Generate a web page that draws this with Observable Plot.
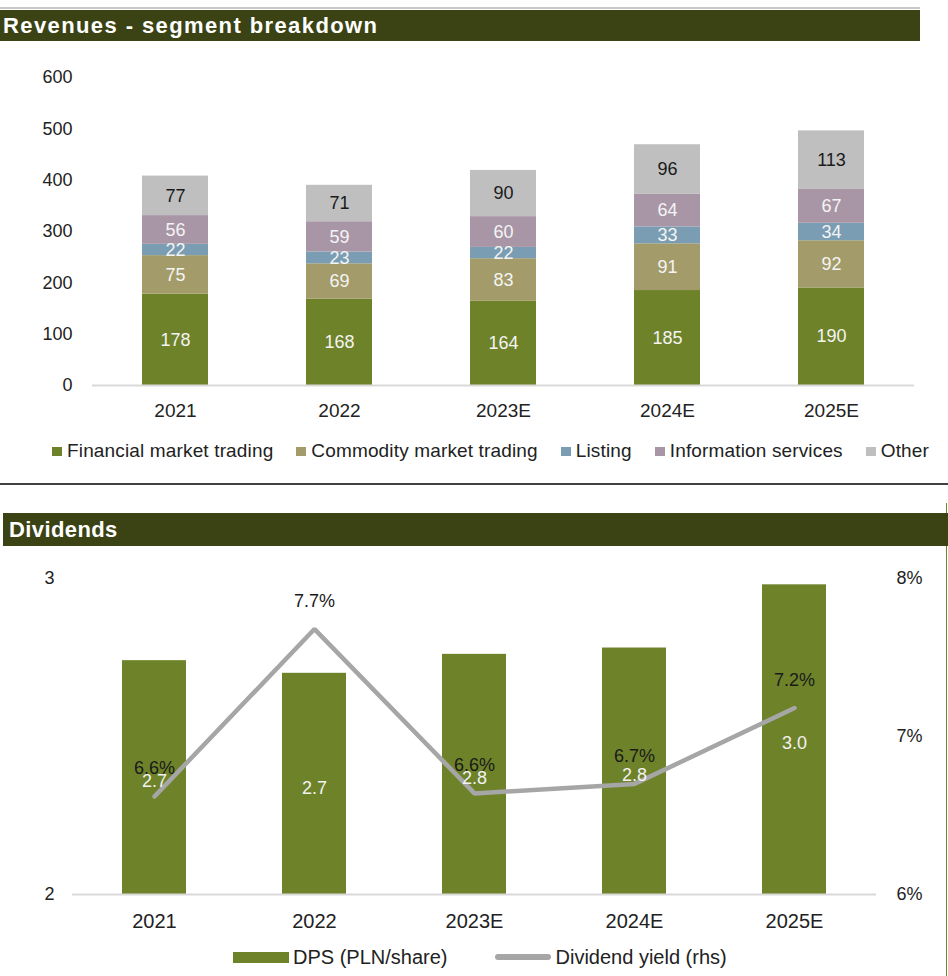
<!DOCTYPE html>
<html>
<head>
<meta charset="utf-8">
<script src="https://cdn.jsdelivr.net/npm/d3@7"></script>
<script src="https://cdn.jsdelivr.net/npm/@observablehq/plot@0.6"></script>
<style>
  html, body { margin: 0; padding: 0; background: #fff; }
  #root { position: relative; width: 948px; height: 976px; overflow: hidden; font-family: "Liberation Sans", Arial, sans-serif; color: #222; }
  .hdr { position: absolute; background: #3b4315; color: #fff; font-weight: bold; font-size: 22px; display: flex; align-items: center; box-sizing: border-box; }
  .legend { position: absolute; display: flex; align-items: center; color: #222; white-space: nowrap; }
  .legend .item { display: flex; align-items: center; }
  .plotbox { position: absolute; left: 0; }
</style>
</head>
<body>
<div id="root">
  <div style="position:absolute;left:0;top:7px;width:920px;height:2px;background:#c8c8c8"></div>
  <div class="hdr" style="left:0;top:10px;width:920px;height:31px;padding-left:3px;letter-spacing:1.4px">Revenues - segment breakdown</div>
  <div id="top" class="plotbox" style="top:41px"></div>
  <div id="legendTop" class="legend" style="left:52px;top:440px;height:22px;gap:23px;font-size:19px;letter-spacing:0.15px"></div>
  <div style="position:absolute;left:0;top:483px;width:948px;height:2px;background:#404040"></div>
  <div style="position:absolute;left:946px;top:503px;width:1px;height:473px;background:#6e8229"></div>
  <div class="hdr" style="left:3px;top:513px;width:945px;height:33px;padding-left:6px;letter-spacing:0.4px">Dividends</div>
  <div id="bottom" class="plotbox" style="top:546px"></div>
  <div id="legendBottom" class="legend" style="left:233px;top:945px;height:24px;gap:47px;font-size:20px"></div>
</div>
<script>
// ---------- Data ----------
const years = ["2021", "2022", "2023E", "2024E", "2025E"];
const segments = ["Financial market trading", "Commodity market trading", "Listing", "Information services", "Other"];
const segmentColors = ["#6e8229", "#a39c6a", "#7b9db3", "#a896a6", "#bfbfbf"];
const financialTrading = [178, 168, 164, 185, 190];
const commodityTrading = [75, 69, 83, 91, 92];
const listing = [22, 23, 22, 33, 34];
const informationServices = [56, 59, 60, 64, 67];
const other = [77, 71, 90, 96, 113];
const revenueTicks = [0, 100, 200, 300, 400, 500, 600];

const dps = [2.74, 2.70, 2.76, 2.78, 2.98];           // PLN/share
const dividendYield = [6.62, 7.68, 6.64, 6.70, 7.18];  // %
const dpsTicks = [2, 3];
const yieldTicks = [6, 7, 8];

// ---------- Top chart: revenues ----------
const seriesValues = [financialTrading, commodityTrading, listing, informationServices, other];
const rows = [];
years.forEach((year, i) => {
  let base = 0;
  segments.forEach((seg, s) => {
    const v = seriesValues[s][i];
    rows.push({year, segment: seg, value: v, y1: base, y2: base + v});
    base += v;
  });
});
const font = "'Liberation Sans', Arial, sans-serif";

const topPlot = Plot.plot({
  width: 948,
  height: 400,
  marginTop: 36,
  marginBottom: 56,
  marginLeft: 92,
  marginRight: 34,
  style: {fontFamily: font, color: "#222", background: "transparent", overflow: "visible"},
  x: {domain: years, paddingInner: 0.6, paddingOuter: 0.3},
  y: {domain: [0, 600]},
  color: {domain: segments, range: segmentColors},
  marks: [
    Plot.axisY(revenueTicks, {tickSize: 0, tickPadding: 20, fontSize: 18, label: null}),
    Plot.axisX({tickSize: 0, tickPadding: 18, fontSize: 19, label: null}),
    Plot.barY(rows, {x: "year", y1: "y1", y2: "y2", fill: "segment"}),
    Plot.ruleY([0], {stroke: "#d9d9d9", strokeWidth: 2}),
    Plot.text(rows.filter(d => d.segment !== "Other"), {
      x: "year", y: d => (d.y1 + d.y2) / 2, text: d => String(d.value),
      fill: "#f4f4f4", fontSize: 18
    }),
    Plot.text(rows.filter(d => d.segment === "Other"), {
      x: "year", y: d => (d.y1 + d.y2) / 2, text: d => String(d.value),
      fill: "#1a1a1a", fontSize: 18
    })
  ]
});
document.getElementById("top").appendChild(topPlot);

const lt = document.getElementById("legendTop");
segments.forEach((seg, s) => {
  const it = document.createElement("div");
  it.className = "item";
  it.innerHTML = `<span style="display:inline-block;width:10px;height:9px;background:${segmentColors[s]};margin-right:5px"></span><span>${seg}</span>`;
  lt.appendChild(it);
});

// ---------- Bottom chart: dividends ----------
const div = years.map((year, i) => ({year, dps: dps[i], yld: dividendYield[i]}));
const yieldToDps = y => dpsTicks[0] + (y - yieldTicks[0]) * (dpsTicks[1] - dpsTicks[0]) / (yieldTicks[2] - yieldTicks[0]);

const bottomPlot = Plot.plot({
  width: 948,
  height: 430,
  marginTop: 32,
  marginBottom: 82,
  marginLeft: 72,
  marginRight: 72,
  style: {fontFamily: font, color: "#222", background: "transparent", overflow: "visible"},
  x: {domain: years, paddingInner: 0.6, paddingOuter: 0.3},
  y: {domain: [2, 3]},
  marks: [
    Plot.axisY(dpsTicks, {anchor: "left", tickSize: 0, tickPadding: 18, fontSize: 18, label: null, tickFormat: d => String(d)}),
    Plot.axisY(yieldTicks.map(yieldToDps), {
      anchor: "right", tickSize: 0, tickPadding: 20, fontSize: 18, label: null,
      tickFormat: d => `${Math.round(yieldTicks[0] + (d - dpsTicks[0]) * (yieldTicks[2] - yieldTicks[0]))}%`
    }),
    Plot.axisX({tickSize: 0, tickPadding: 19, fontSize: 20, label: null}),
    Plot.barY(div, {x: "year", y1: () => 2, y2: "dps", fill: "#6e8229"}),
    Plot.ruleY([2], {stroke: "#d9d9d9", strokeWidth: 2}),
    Plot.line(div, {x: "year", y: d => yieldToDps(d.yld), stroke: "#a6a6a6", strokeWidth: 4.5, strokeLinecap: "round", strokeLinejoin: "miter"}),
    Plot.text(div, {x: "year", y: d => (2 + d.dps) / 2, dy: 4, text: d => d.dps.toFixed(1), fill: "#f2f2f2", fontSize: 18}),
    Plot.text(div, {x: "year", y: d => yieldToDps(d.yld), dy: -28, text: d => d.yld.toFixed(1) + "%", fill: "#1a1a1a", fontSize: 18})
  ]
});
document.getElementById("bottom").appendChild(bottomPlot);

const lb = document.getElementById("legendBottom");
lb.innerHTML = `
  <div class="item"><span style="display:inline-block;width:56px;height:11px;background:#6e8229;margin-right:4px"></span><span>DPS (PLN/share)</span></div>
  <div class="item"><span style="display:inline-block;width:56px;height:6px;border-radius:3px;background:#a6a6a6;margin-right:5px"></span><span>Dividend yield (rhs)</span></div>`;
</script>
</body>
</html>
